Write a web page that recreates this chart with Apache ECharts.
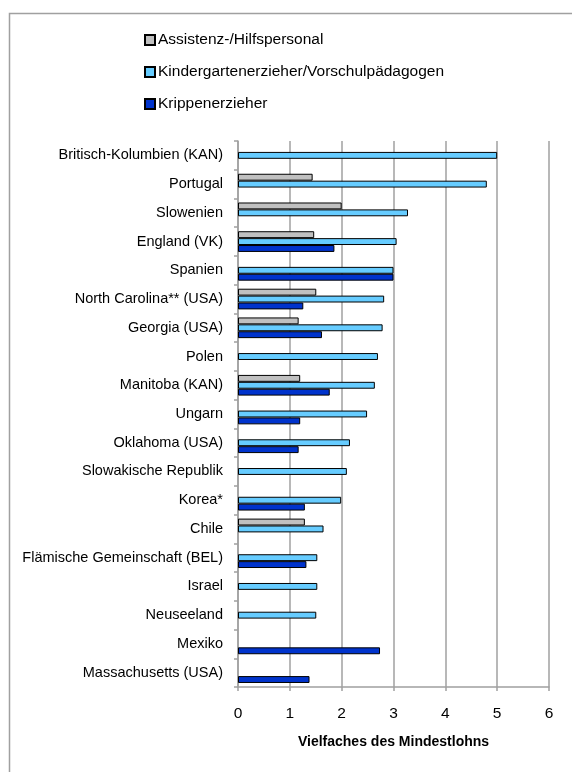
<!DOCTYPE html>
<html>
<head>
<meta charset="utf-8">
<script src="https://cdn.jsdelivr.net/npm/echarts@6/dist/echarts.min.js"></script>
<style>
  html, body { margin: 0; padding: 0; background: #fff; }
  #chart { width: 572px; height: 772px; }
</style>
</head>
<body>
<div id="chart"></div>
<script>
// Regions / states, listed top to bottom
const categories = [
  'Britisch-Kolumbien (KAN)', 'Portugal', 'Slowenien', 'England (VK)', 'Spanien',
  'North Carolina** (USA)', 'Georgia (USA)', 'Polen', 'Manitoba (KAN)', 'Ungarn',
  'Oklahoma (USA)', 'Slowakische Republik', 'Korea*', 'Chile',
  'Flämische Gemeinschaft (BEL)', 'Israel', 'Neuseeland', 'Mexiko', 'Massachusetts (USA)'
];

// Salary as a multiple of the minimum wage (null = no data)
const assistenz = [null, 1.44, 2.0, 1.47, null, 1.51, 1.17, null, 1.2, null,
  null, null, null, 1.29, null, null, null, null, null];
const kindergarten = [5.0, 4.8, 3.28, 3.06, 3.0, 2.82, 2.79, 2.7, 2.64, 2.49,
  2.16, 2.1, 1.99, 1.65, 1.53, 1.53, 1.51, null, null];
const krippe = [null, null, null, 1.86, 3.0, 1.26, 1.62, null, 1.77, 1.2,
  1.17, null, 1.29, null, 1.32, null, null, 2.74, 1.38];

const xTicks = { min: 0, max: 6, interval: 1 };

const font = 'Liberation Sans, Arial, sans-serif';
const gridGrey = '#a0a0a0';

function barSeries(name, data, color) {
  return {
    name: name,
    type: 'bar',
    data: data,
    barGap: '0%',
    barCategoryGap: '28%',
    itemStyle: { color: color, borderColor: '#000', borderWidth: 1 }
  };
}

const chart = echarts.init(document.getElementById('chart'), null, { renderer: 'canvas' });
chart.setOption({
  animation: false,
  backgroundColor: '#fff',
  graphic: [{
    type: 'rect',
    left: 7, top: 11,
    shape: { width: 700, height: 900 },
    style: { fill: 'none', stroke: '#a0a0a0', lineWidth: 1.5 },
    silent: true
  }],
  legend: {
    orient: 'vertical',
    left: 144,
    top: 32,
    padding: 0,
    itemWidth: 10,
    itemHeight: 10,
    itemGap: 16,
    icon: 'rect',
    textStyle: { fontFamily: font, fontSize: 15.5, color: '#000', padding: [0, 0, 0, -2] },
    data: ['Assistenz-/Hilfspersonal', 'Kindergartenerzieher/Vorschulpädagogen', 'Krippenerzieher']
  },
  grid: { left: 238, right: 23, top: 141, bottom: 85, containLabel: false },
  xAxis: {
    type: 'value',
    min: xTicks.min,
    max: xTicks.max,
    interval: xTicks.interval,
    name: 'Vielfaches des Mindestlohns',
    nameLocation: 'middle',
    nameGap: 48,
    nameTextStyle: { fontFamily: font, fontSize: 14, fontWeight: 'bold', color: '#000' },
    axisLine: { show: true, lineStyle: { color: gridGrey, width: 1.5 } },
    axisTick: { show: true, length: 4, lineStyle: { color: gridGrey, width: 1.5 } },
    axisLabel: { fontFamily: font, fontSize: 15.5, color: '#000', margin: 19 },
    splitLine: { show: true, lineStyle: { color: gridGrey, width: 1.5 } }
  },
  yAxis: {
    type: 'category',
    inverse: true,
    data: categories,
    axisLine: { show: true, lineStyle: { color: gridGrey, width: 1.5 } },
    axisTick: { show: true, length: 4, lineStyle: { color: gridGrey, width: 1.5 } },
    axisLabel: { fontFamily: font, fontSize: 14.5, color: '#000', margin: 15 }
  },
  series: [
    barSeries('Assistenz-/Hilfspersonal', assistenz, '#c0c0c0'),
    barSeries('Kindergartenerzieher/Vorschulpädagogen', kindergarten, '#66ccff'),
    barSeries('Krippenerzieher', krippe, '#0033cc')
  ]
});
</script>
</body>
</html>
